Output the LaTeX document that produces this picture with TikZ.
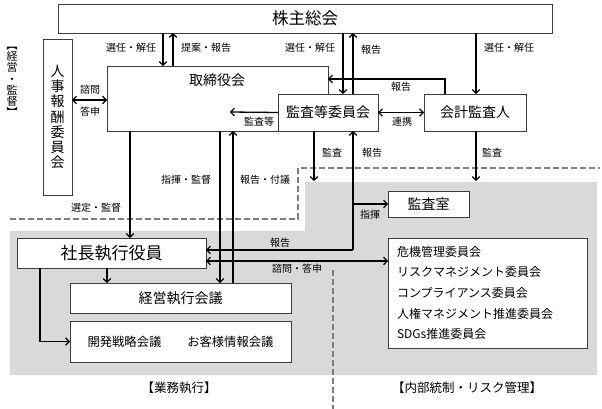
\documentclass[tikz,border=0pt]{standalone}
\usepackage{fontspec}
\setmainfont{Noto Sans CJK JP}
\usetikzlibrary{arrows.meta}
\definecolor{areagray}{RGB}{217,217,217}
\definecolor{dashgray}{RGB}{125,125,125}
\definecolor{boxline}{RGB}{60,60,60}
\newcommand{\jfs}[1]{\fontsize{#1}{#1}\selectfont}
\newcommand{\jvert}[2]{\fontsize{#1}{#2}\selectfont\lineskiplimit=-100pt\relax}

\begin{document}
\begin{tikzpicture}[x=1pt,y=-1pt,
	box/.style={draw=boxline, fill=white, line width=0.8pt, inner sep=0pt, outer sep=0pt},
	lbl/.style={font=\jfs{10}, inner sep=0pt},
	flow/.style={line width=1.3pt, ->},
	dashline/.style={draw=dashgray, line width=1.2pt, dash pattern=on 6pt off 3pt},
	>={Straight Barb[length=3.5pt,width=7.5pt]}]
	
	\useasboundingbox (0,0) rectangle (602,409);
	
	%Areas
	\fill[areagray] (10,231) -- (305,231) -- (305,182) -- (597,182) -- (597,375) -- (10,375) -- cycle;
	\draw[dashline] (10,219) -- (298,219) -- (298,168) -- (600,168);
	\draw[dashline] (333,270) -- (333,409);
	
	%Boxes
	\node (holders) at (305,18.5) [box, minimum width=494pt, minimum height=29pt, font=\jfs{16.5}]{株主総会};
	\node (nomcom) at (57.5,117) [box, minimum width=29pt, minimum height=156pt, align=center, font=\jvert{14}{15.3}]{人\\事\\報\\酬\\委\\員\\会};
	\node (board) at (217.5,98.5) [box, minimum width=221pt, minimum height=65pt]{};
	\node (boardtxt) at (217,80) [font=\jfs{14}]{取締役会};
	\node (auditcom) at (328,112.5) [box, minimum width=100pt, minimum height=37pt, font=\jfs{14}]{監査等委員会};
	\node (auditor) at (475,112.5) [box, minimum width=102pt, minimum height=37pt, font=\jfs{14}]{会計監査人};
	\node (auditroom) at (428.5,204) [box, minimum width=81pt, minimum height=26pt, font=\jfs{14}]{監査室};
	\node (president) at (111.5,253) [box, minimum width=189pt, minimum height=30pt, font=\jfs{17}]{社長執行役員};
	\node (mgmt) at (180.5,298) [box, minimum width=221pt, minimum height=30pt, font=\jfs{14}]{経営執行会議};
	\node (meetings) at (180.5,341.5) [box, minimum width=221pt, minimum height=41pt, font=\jfs{12.3}]{開発戦略会議\hspace{26pt}お客様情報会議};
	\node (committees) at (487.5,293) [box, minimum width=199pt, minimum height=110pt, text width=181pt, inner xsep=9pt, align=left, font=\fontsize{12}{20.7}\selectfont]{危機管理委員会\\リスクマネジメント委員会\\コンプライアンス委員会\\人権マネジメント推進委員会\\SDGs推進委員会};
	
	%Area titles
	\node (supervise) at (12,82) [align=center, font=\jvert{11}{11.2}]{︻\\経\\営\\・\\監\\督\\︼};
	\node (execute) at (179,388) [font=\jfs{12.5}]{【業務執行】};
	\node (control) at (467,388) [font=\jfs{12.5}]{【内部統制・リスク管理】};
	
	%Free ends
	\coordinate (auditpt) at (230,112);
	\coordinate (auditend) at (314,181);
	\coordinate (auditorend) at (476,181);
	\coordinate (repjoint) at (353,250);
	
	%Links
	\draw[flow] (holders.south -| 163,0) -- (board.north -| 163,0);
	\draw[flow] (board.north -| 173,0) -- (holders.south -| 173,0);
	\draw[flow] (holders.south -| 343,0) -- (auditcom.north -| 343,0);
	\draw[flow] (auditcom.north -| 353,0) -- (holders.south -| 353,0);
	\draw[flow] (holders.south -| 476,0) -- (auditor.north -| 476,0);
	\draw[flow] (auditor.north -| 445,0) |- (board.east |- 0,79);
	\draw[flow,<->] (auditcom.east) -- (auditor.west);
	\draw[flow] (auditcom.west) -- (auditpt);
	\draw[flow,<->] (nomcom.east |- 0,100) -- (board.west |- 0,100);
	\draw[flow] (auditcom.south -| auditend) -- (auditend);
	\draw[flow] (auditor.south -| auditorend) -- (auditorend);
	\draw[flow] (repjoint) -- (auditcom.south -| repjoint);
	\draw[flow] (repjoint) -- (president.east |- repjoint);
	\draw[flow] (auditroom.west -| repjoint) -- (auditroom.west);
	\draw[flow] (board.south -| 130,0) -- (president.north -| 130,0);
	\draw[flow] (board.south -| 220,0) -- (mgmt.north -| 220,0);
	\draw[flow] (mgmt.north -| 233,0) -- (board.south -| 233,0);
	\draw[flow,<->] (president.east |- 0,261) -- (committees.west |- 0,261);
	\draw[flow] (president.south -| 107,0) -- (mgmt.north -| 107,0);
	\draw[flow] (president.south -| 40,0) |- (meetings.west);
	
	%Labels
	\node (l1) at (131,48) [lbl]{選任・解任};
	\node (l2) at (206,48) [lbl]{提案・報告};
	\node (l3) at (310,48) [lbl]{選任・解任};
	\node (l4) at (371,50) [lbl]{報告};
	\node (l5) at (509,48) [lbl]{選任・解任};
	\node (l6) at (401,87) [lbl]{報告};
	\node (l7) at (402,122) [lbl]{連携};
	\node (l8) at (259,122) [lbl]{監査等};
	\node (l9) at (90,90) [lbl]{諮問};
	\node (l10) at (90,112) [lbl]{答申};
	\node (l11) at (332,153) [lbl]{監査};
	\node (l12) at (372,153) [lbl]{報告};
	\node (l13) at (492,153) [lbl]{監査};
	\node (l14) at (370,215) [lbl]{指揮};
	\node (l15) at (186,180) [lbl]{指揮・監督};
	\node (l16) at (265,180) [lbl]{報告・付議};
	\node (l17) at (96,208) [lbl]{選定・監督};
	\node (l18) at (280,243) [lbl]{報告};
	\node (l19) at (297,269) [lbl]{諮問・答申};
	
\end{tikzpicture}
\end{document}
